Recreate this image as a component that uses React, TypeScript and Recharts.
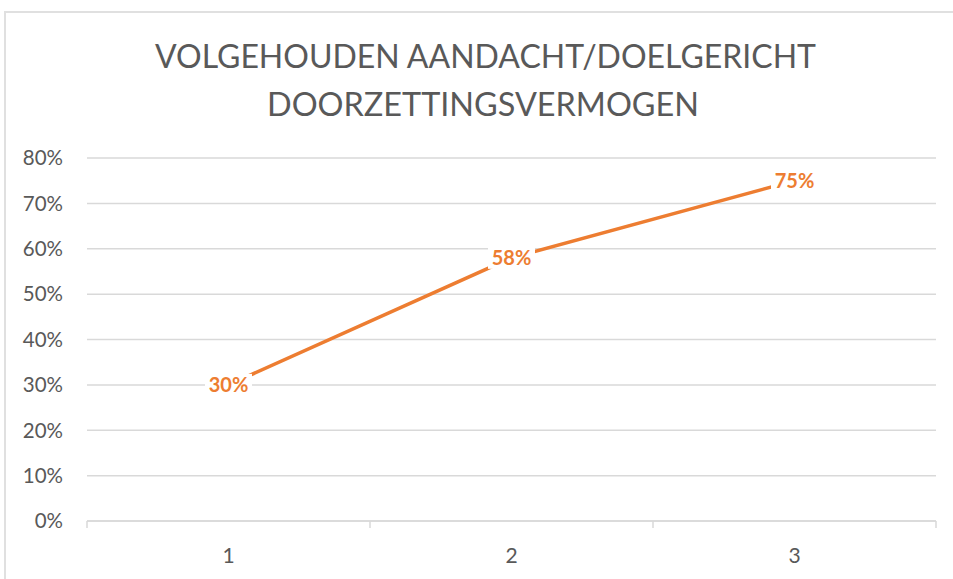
import React from "react";
import { LineChart, Line, XAxis, YAxis, CartesianGrid, LabelList } from "recharts";

const categories = ["1", "2", "3"];
const values = [0.3, 0.58, 0.75];
const yTicks = [0, 0.1, 0.2, 0.3, 0.4, 0.5, 0.6, 0.7, 0.8];
const titleLines = ["VOLGEHOUDEN AANDACHT/DOELGERICHT", "DOORZETTINGSVERMOGEN"];

const data = categories.map((c, i) => ({ cat: c, value: values[i] }));

const W = 953;
const H = 579;
const MARGIN = { top: 158, right: 17, bottom: 0, left: 0 };
const Y_AXIS_W = 87;
const X_AXIS_H = 58;
const PLOT_W = W - MARGIN.left - MARGIN.right - Y_AXIS_W;
const BAND = PLOT_W / categories.length;

const ORANGE = "#ED7D31";
const GRID = "#d9d9d9";
const TEXT = "#595959";
const FONT = "Lato, 'Open Sans', sans-serif";

const pct = (v: number) => `${Math.round(v * 100)}%`;

const XTick = (props: any) => {
  const { x, y, payload, index } = props;
  const axisY = y - 8;
  const last = index === categories.length - 1;
  return (
    <g>
      <line x1={x - BAND / 2} x2={x - BAND / 2} y1={axisY} y2={axisY + 7} stroke={GRID} strokeWidth={1.5} />
      {last && (
        <line x1={x + BAND / 2} x2={x + BAND / 2} y1={axisY} y2={axisY + 7} stroke={GRID} strokeWidth={1.5} />
      )}
      <text x={x} y={y} dy={34} textAnchor="middle" fill={TEXT} fontSize={21} fontFamily={FONT}>
        {payload.value}
      </text>
    </g>
  );
};

const PointLabel = (props: any) => {
  const { x, y, value } = props;
  const w = 47;
  const h = 22;
  return (
    <g>
      <rect x={x - w / 2} y={y - h / 2} width={w} height={h} fill="#ffffff" />
      <text
        x={x}
        y={y}
        dy={7}
        textAnchor="middle"
        fill={ORANGE}
        fontSize={20}
        fontWeight={700}
        fontFamily={FONT}
      >
        {pct(value)}
      </text>
    </g>
  );
};

export default function App() {
  return (
    <div
      style={{
        position: "absolute",
        left: 0,
        top: 0,
        width: W,
        height: H,
        overflow: "hidden",
        background: "#ffffff",
      }}
    >
      <div
        style={{
          position: "absolute",
          left: 4,
          top: 11,
          width: 1000,
          height: 700,
          border: "2px solid #e0e0e0",
          boxSizing: "border-box",
        }}
      />
      <svg
        width={W}
        height={140}
        style={{ position: "absolute", left: 0, top: 0 }}
      >
        <text
          x={485.5}
          y={68}
          textAnchor="middle"
          fill={TEXT}
          fontSize={32}
          fontWeight={400}
          fontFamily={FONT}
          textLength={661}
          lengthAdjust="spacingAndGlyphs"
        >
          {titleLines[0]}
        </text>
        <text
          x={483}
          y={116}
          textAnchor="middle"
          fill={TEXT}
          fontSize={32}
          fontWeight={400}
          fontFamily={FONT}
          textLength={432}
          lengthAdjust="spacingAndGlyphs"
        >
          {titleLines[1]}
        </text>
      </svg>
      <div style={{ position: "absolute", left: 0, top: 0 }}>
        <LineChart width={W} height={H} data={data} margin={MARGIN}>
          <CartesianGrid vertical={false} stroke={GRID} strokeWidth={1.5} />
          <XAxis
            dataKey="cat"
            scale="band"
            height={X_AXIS_H}
            axisLine={{ stroke: GRID, strokeWidth: 1.5 }}
            tickLine={false}
            tickSize={6}
            tickMargin={2}
            tick={<XTick />}
            interval={0}
          />
          <YAxis
            width={Y_AXIS_W}
            domain={[0, 0.8]}
            ticks={yTicks}
            tickFormatter={pct}
            axisLine={false}
            tickLine={false}
            tickSize={6}
            tickMargin={18}
            tick={{ fill: TEXT, fontSize: 20.5, fontFamily: FONT }}
          />
          <Line
            type="linear"
            dataKey="value"
            stroke={ORANGE}
            strokeWidth={3.5}
            dot={false}
            activeDot={false}
            isAnimationActive={false}
          >
            <LabelList dataKey="value" content={<PointLabel />} />
          </Line>
        </LineChart>
      </div>
    </div>
  );
}
